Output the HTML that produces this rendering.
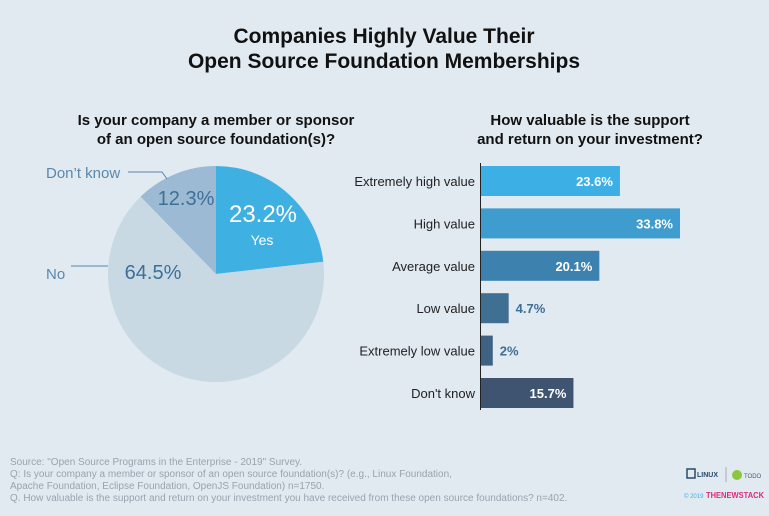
<!DOCTYPE html>
<html><head><meta charset="utf-8"><style>
body{margin:0;width:769px;height:511px;background:#e1e9f1;font-family:"Liberation Sans",sans-serif;overflow:hidden}
</style></head><body>
<svg width="769" height="511" font-family="Liberation Sans, sans-serif">
<text x="384" y="43" text-anchor="middle" font-size="21" font-weight="bold" fill="#111">Companies Highly Value Their</text>
<text x="384" y="68" text-anchor="middle" font-size="21" font-weight="bold" fill="#111">Open Source Foundation Memberships</text>
<text x="216" y="125" text-anchor="middle" font-size="15" font-weight="bold" fill="#111">Is your company a member or sponsor</text>
<text x="216" y="144" text-anchor="middle" font-size="15" font-weight="bold" fill="#111">of an open source foundation(s)?</text>
<text x="590" y="125" text-anchor="middle" font-size="15" font-weight="bold" fill="#111">How valuable is the support</text>
<text x="590" y="144" text-anchor="middle" font-size="15" font-weight="bold" fill="#111">and return on your investment?</text>
<g id="pie"></g>
<g id="bars"></g>
<line x1="480.5" y1="163" x2="480.5" y2="410" stroke="#222" stroke-width="1"/>
<g font-size="10" fill="#98a4ae">
<text x="10" y="465">Source: "Open Source Programs in the Enterprise - 2019" Survey.</text>
<text x="10" y="477">Q: Is your company a member or sponsor of an open source foundation(s)? (e.g., Linux Foundation,</text>
<text x="10" y="489">Apache Foundation, Eclipse Foundation, OpenJS Foundation) n=1750.</text>
<text x="10" y="501">Q.  How valuable is the support and return on your investment you have received from these open source foundations? n=402.</text>
</g>
<g>
<rect x="687" y="469" width="8" height="9" fill="none" stroke="#2a4a6a" stroke-width="1.5"/>
<text x="697" y="477" font-size="7" font-weight="bold" fill="#2a4a6a">LINUX</text>
<line x1="726" y1="467" x2="726" y2="482" stroke="#aab"/>
<circle cx="737" cy="475" r="5" fill="#8cc63f"/>
<text x="744" y="478" font-size="6" fill="#557">TODO</text>
<text x="684" y="498" font-size="6" fill="#3cb0e4">© 2019</text>
<text x="706" y="498" font-size="8" font-weight="bold" fill="#e0287c" textLength="58" lengthAdjust="spacingAndGlyphs">THENEWSTACK</text>
</g>
</svg>
<script>
const pieLabels=["Yes","No","Don't know"];
const pieValues=[23.2,64.5,12.3];
const pieColors=["#3fb0e2","#c8d9e4","#9cbad3"];
const barCats=["Extremely high value","High value","Average value","Low value","Extremely low value","Don't know"];
const barValues=[23.6,33.8,20.1,4.7,2,15.7];
const barColors=["#3cb0e4","#3e9cce","#3d82ae","#3f6f93","#3e6283","#3e5470"];
const NS="http://www.w3.org/2000/svg";
function mk(t,a,p){const e=document.createElementNS(NS,t);for(const k in a)e.setAttribute(k,a[k]);p.appendChild(e);return e;}
const pie=document.getElementById('pie');
const cx=216,cy=274,r=108;
const total=pieValues.reduce((a,b)=>a+b,0);
let ang=0;
const pt=(a,rr)=>[cx+rr*Math.sin(a),cy-rr*Math.cos(a)];
pieValues.forEach((v,i)=>{
  const a0=ang,a1=ang+v/total*2*Math.PI;ang=a1;
  const p0=pt(a0,r),p1=pt(a1,r);
  const s=mk('path',{d:`M${cx},${cy}L${p0[0]},${p0[1]}A${r},${r} 0 ${a1-a0>Math.PI?1:0} 1 ${p1[0]},${p1[1]}Z`,fill:pieColors[i]},pie);
  
  
});
function txt(x,y,s,size,fill,anchor,parent){const t=mk('text',{x:x,y:y,'font-size':size,fill:fill,'text-anchor':anchor||'start'},parent);t.textContent=s;return t;}
let t;
t=txt(263,222,pieValues[0]+'%',24,'#fff','middle',pie);


t=txt(262,245,'Yes',14,'#fff','middle',pie);


t=txt(153,279,pieValues[1]+'%',20,'#3e6f96','middle',pie);


t=txt(186,205,pieValues[2]+'%',20,'#3e6f96','middle',pie);


t=txt(46,279,'No',15,'#5a88ad','start',pie);


mk('line',{x1:71,y1:266,x2:108,y2:266,stroke:'#5a88ad'},pie);
t=txt(46,178,"Don’t know",15,'#5a88ad','start',pie);


mk('polyline',{points:'128,172 162,172 167,179',fill:'none',stroke:'#5a88ad'},pie);
const bars=document.getElementById('bars');
const x0=481,scale=199/33.8,bandTop=166,band=42.4,bh=30;
barValues.forEach((v,i)=>{
  const y=bandTop+i*band;const w=v*scale;
  const b=mk('rect',{x:x0,y:y,width:w,height:bh,fill:barColors[i]},bars);
  
  
  const c=txt(x0-6,y+bh/2+5,barCats[i],13,'#222','end',bars);
  
  
  const inside=w>60;
  const l=txt(inside?x0+w-7:x0+w+7,y+bh/2+5,v+'%',13,inside?'#fff':'#3e6f96',inside?'end':'start',bars);
  l.setAttribute('font-weight','bold');
  
  
});
</script>
</body></html>
